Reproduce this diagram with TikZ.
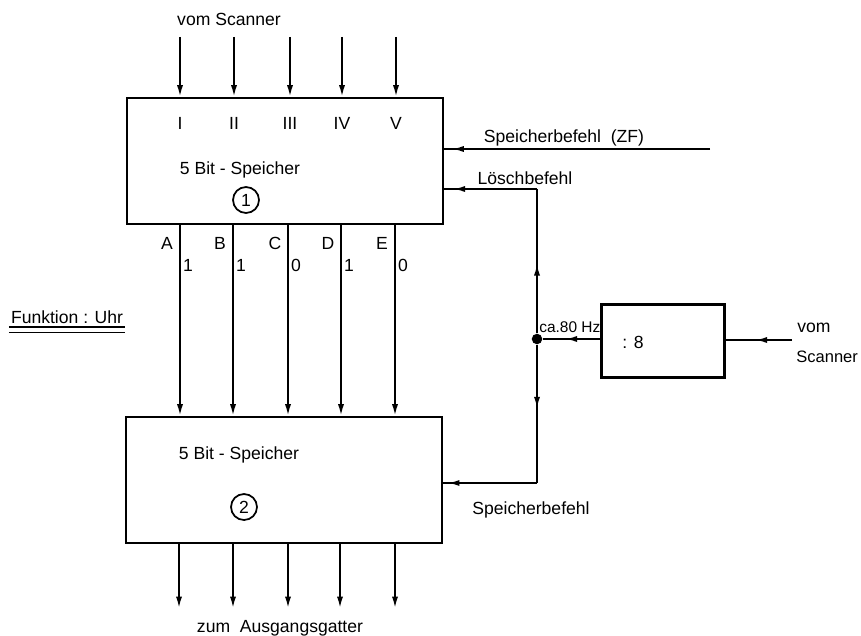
\documentclass[tikz,border=0pt]{standalone}
\usepackage{fontspec}
\setmainfont{Liberation Sans}
\usetikzlibrary{arrows.meta,decorations.markings}

\tikzset{
  speicher/.style={draw, line width=1.6pt, rectangle, minimum width=6.32cm, minimum height=2.52cm},
  sig/.style={line width=1pt},
  sigarrow/.style={sig, -{Latex[length=6.5pt,width=3.5pt]}},
  tipat/.style={sig, postaction={decorate}, decoration={markings, mark=at position #1 with {\arrow{Latex[length=6.5pt,width=3.5pt]}}}},
  lbl/.style={font=\fontsize{10}{12}\selectfont, inner sep=1pt},
  nummer/.style={lbl, draw, circle, line width=1pt, minimum size=0.52cm, inner sep=0pt},
}

\begin{document}
\begin{tikzpicture}[x=0.02cm, y=-0.02cm]
            \useasboundingbox (0,0) rectangle (861,635);

            % Memory 1 and memory 2
            \node[speicher] (box1) at (285,161) {};
            \node[speicher] (box2) at (284,480) {};
            \node[lbl] (txt1) at (240,170) {5 Bit - Speicher};
            \node[lbl] (txt2) at (239,455) {5 Bit - Speicher};
            \node[nummer] (num1) at (246,200) {1};
            \node[nummer] (num2) at (244,507) {2};

            % Divider box
            \node[draw, line width=1.6pt, rectangle, minimum width=2.46cm, minimum height=1.46cm] (div) at (663,341) {};
            \node[lbl] (divtxt) at (633,342) {: 8};

            % Inputs from the scanner
            \node[lbl] (vomtop) at (229,19) {vom Scanner};
            \foreach \x/\r [count=\i] in {180/I,234/II,290/III,342/IV,396/V} {
              \coordinate (in\i) at (\x,37);
              \draw[sigarrow] (in\i) -- (in\i |- box1.north);
              \node[lbl] (r\i) at (\x,123) {\r};
            }

            % Lines A to E between the memories
            \foreach \x/\l/\v [count=\i] in {180/A/1,233/B/1,288/C/0,341/D/1,395/E/0} {
              \coordinate (bit\i) at (\x,300);
              \draw[sigarrow] (bit\i |- box1.south) -- (bit\i |- box2.north);
              \node[lbl] (l\i) at (\x-13,243) {\l};
              \node[lbl] (v\i) at (\x+8,265) {\v};
            }

            % Outputs
            \foreach \x [count=\i] in {179,233,288,340,395} {
              \coordinate (out\i) at (\x,608);
              \draw[sigarrow] (out\i |- box2.south) -- (out\i);
            }
            \node[lbl] (zum) at (280,628) {zum\ \ Ausgangsgatter};

            % Commands on the right
            \coordinate (zf) at (710,149);
            \draw[tipat=0.97] (zf) -- (zf -| box1.east);
            \node[lbl] (zftxt) at (564,138) {Speicherbefehl\ \ (ZF)};

            \node[circle, fill, inner sep=0pt, minimum size=6pt] (junc) at (537,339) {};
            \coordinate (lcorner) at (537,189);
            \coordinate (scorner) at (537,483);
            \draw[tipat=0.48] (junc) -- (lcorner);
            \draw[tipat=0.9] (lcorner) -- (lcorner -| box1.east);
            \node[lbl] (loesch) at (525,178) {Löschbefehl};
            \draw[tipat=0.46] (junc) -- (scorner);
            \draw[tipat=0.95] (scorner) -- (scorner -| box2.east);
            \node[lbl] (stxt) at (531,510) {Speicherbefehl};

            \draw[tipat=0.6] (div.west |- junc) -- (junc);
            \node[lbl, font=\fontsize{8.8}{10}\selectfont, inner sep=0pt, anchor=west] (hz) at (539,327) {ca.80 Hz};

            \coordinate (scan) at (792,340);
            \draw[tipat=0.55] (scan) -- (scan -| div.east);
            \node[lbl, anchor=west, inner sep=0pt] (vomr) at (797,328) {vom};
            \node[lbl, anchor=west, inner sep=0pt, font=\fontsize{9.4}{11}\selectfont] (scanr) at (796,357) {Scanner};

            % Function
            \node[lbl] (fkt) at (67,317) {Funktion : Uhr};
            \draw[line width=1pt] ([yshift=-1pt]fkt.south west) -- ([yshift=-1pt]fkt.south east);
            \draw[line width=1pt] ([yshift=-4pt]fkt.south west) -- ([yshift=-4pt]fkt.south east);
        \end{tikzpicture}
\end{document}
